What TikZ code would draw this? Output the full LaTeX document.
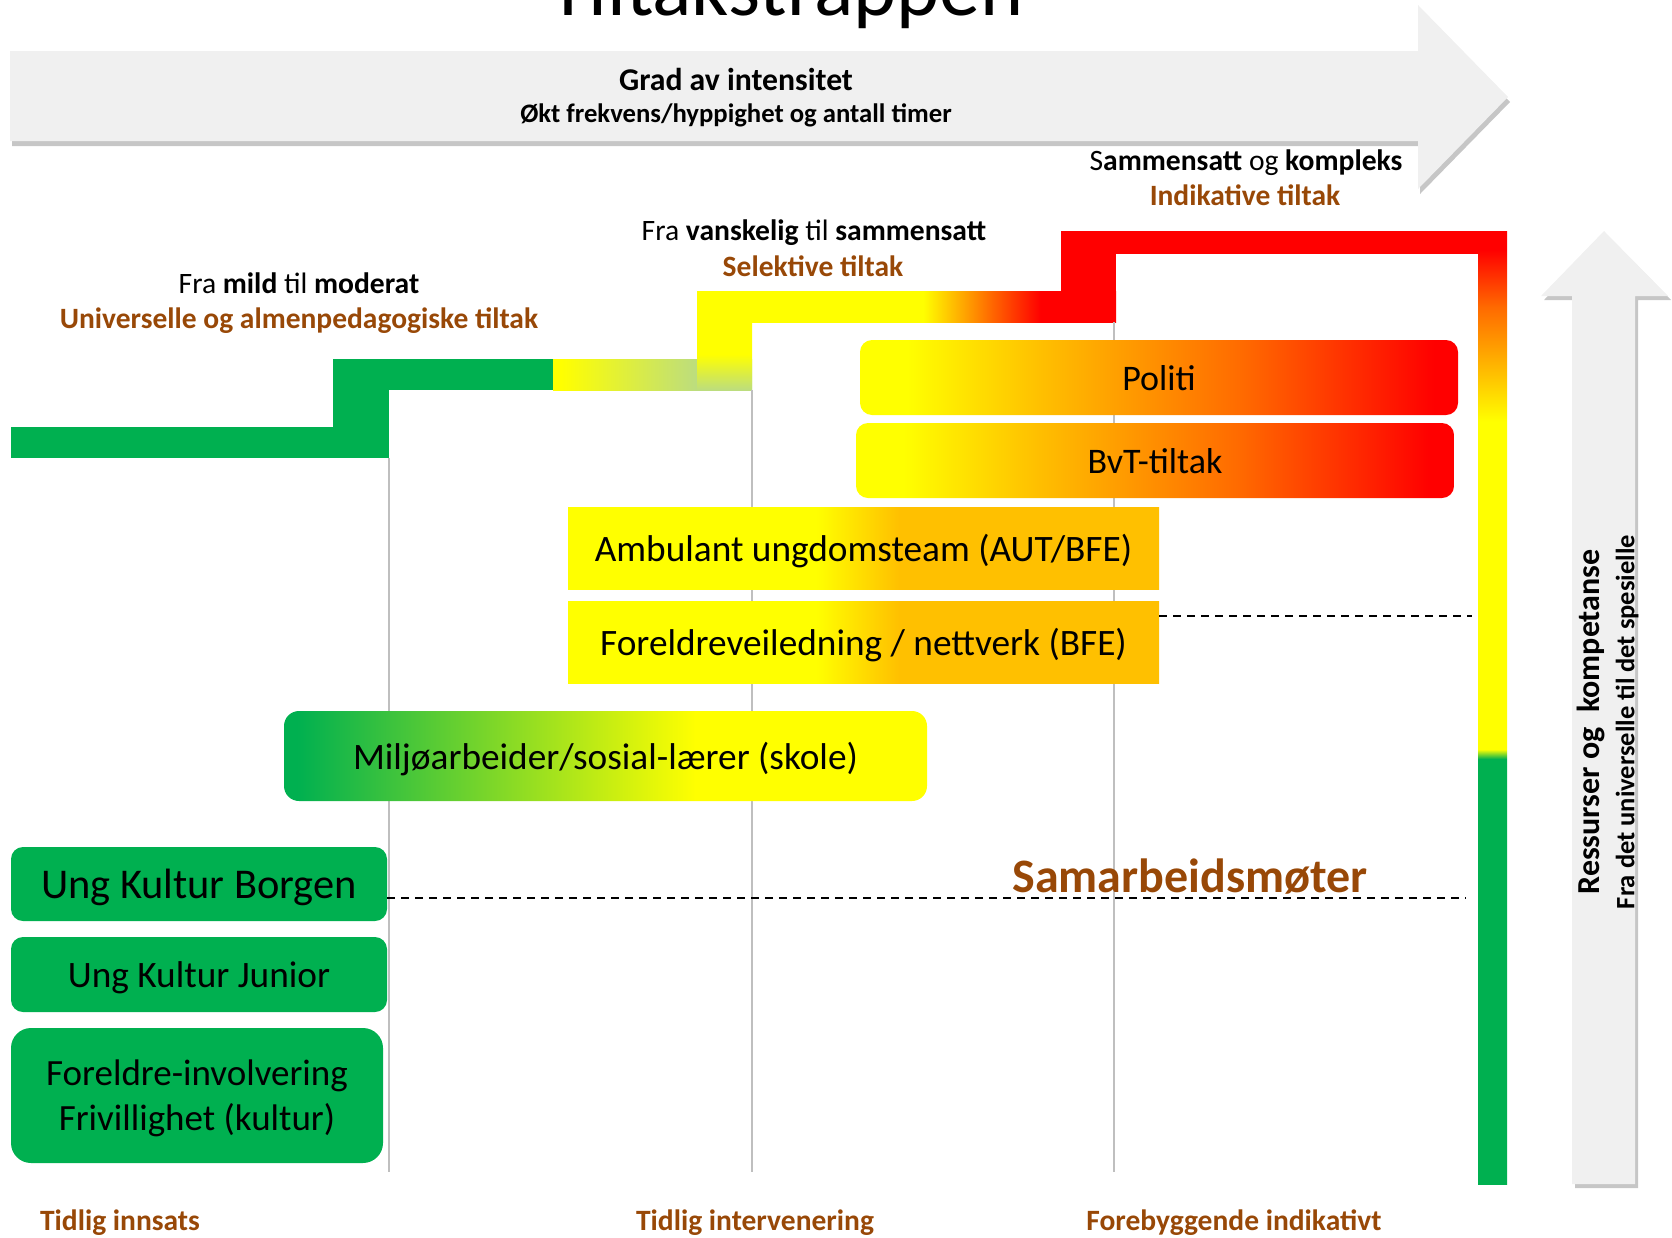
\documentclass[tikz,border=0pt]{standalone}
\usepackage{fontspec}
\setmainfont{Carlito}
\usepackage{xcolor}
\usepackage{tikz}

\definecolor{tgreen}{HTML}{00B050}
\definecolor{tamber}{HTML}{FFC000}
\definecolor{torange}{HTML}{FF6A00}
\definecolor{tbrown}{HTML}{984807}
\definecolor{tarrow}{HTML}{F0F0F0}
\definecolor{tgrid}{HTML}{BFBFBF}
\definecolor{tpale}{HTML}{BCDD7E}

\newcommand{\tsize}[1]{\fontsize{#1}{#1}\selectfont}

% shadings: 25bp..75bp is the filled path
\pgfdeclarehorizontalshading{redshade}{100bp}{color(0bp)=(yellow); color(29bp)=(yellow); color(40bp)=(tamber); color(57bp)=(torange); color(73bp)=(red); color(100bp)=(red)}
\pgfdeclarehorizontalshading{ambershade}{100bp}{color(0bp)=(yellow); color(46bp)=(yellow); color(53bp)=(tamber); color(100bp)=(tamber)}
\pgfdeclarehorizontalshading{greenshade}{100bp}{color(0bp)=(tgreen); color(26bp)=(tgreen); color(57bp)=(yellow); color(100bp)=(yellow)}
\pgfdeclarehorizontalshading{stepshade}{100bp}{color(0bp)=(yellow); color(52bp)=(yellow); color(60bp)=(torange); color(66bp)=(red); color(100bp)=(red)}
\pgfdeclarehorizontalshading{paleshade}{100bp}{color(0bp)=(yellow); color(27bp)=(yellow); color(61bp)=(tpale); color(100bp)=(tpale)}
\pgfdeclareverticalshading{risershade}{100bp}{color(0bp)=(tpale); color(25bp)=(tpale); color(43bp)=(yellow); color(100bp)=(yellow)}
\pgfdeclareverticalshading{barshade}{100bp}{color(0bp)=(tgreen); color(47.3bp)=(tgreen); color(47.8bp)=(yellow); color(65bp)=(yellow); color(67.5bp)=(tamber); color(71bp)=(torange); color(74bp)=(red); color(100bp)=(red)}

\begin{document}
\begin{tikzpicture}[x=1pt,y=-1pt,
    txt/.style={inner sep=0pt,anchor=base,font=\tsize{29.6}},
    head/.style={txt,font=\tsize{29.5}\bfseries,text=tbrown},
    gbox/.style={fill=tgreen,rounded corners=12pt,inner sep=0pt,minimum width=376pt,text depth=0pt,font=\tsize{37.3}},
    fbox/.style={inner sep=0pt,minimum width=591pt,minimum height=82pt,text depth=0pt,shading=ambershade,font=\tsize{37.3}},
    rbox/.style={inner sep=0pt,minimum width=598pt,minimum height=75pt,text depth=0pt,rounded corners=12pt,shading=redshade,font=\tsize{36}},
    gridline/.style={tgrid,line width=2pt},
    meetline/.style={dash pattern=on 8pt off 6pt,line width=2pt}]
  \useasboundingbox (0,0) rectangle (1672,1237);
  \clip (0,0) rectangle (1672,1237);

  % Intensity arrow
  \foreach \dx/\dy/\col in {2/5/gray!45, 0/0/tarrow}
    \fill[\col,shift={(\dx,\dy)}] (10,51) -- (1418,51) -- (1418,5) -- (1508,97)
      -- (1418,189) -- (1418,141) -- (10,141) -- cycle;
  \node[txt,font=\tsize{82}] (title) at (786,15) {Tiltakstrappen};
  \node[txt,font=\tsize{31.7}\bfseries] (grad) at (736,90) {Grad av intensitet};
  \node[txt,font=\tsize{26.7}\bfseries] (okt) at (736,122) {Økt frekvens/hyppighet og antall timer};

  % Resource arrow
  \foreach \dx/\dy/\col in {3/4/gray!45, 0/0/tarrow}
    \fill[\col,shift={(\dx,\dy)}] (1572,1184) -- (1572,296) -- (1541,296) -- (1604,231)
      -- (1668,296) -- (1635,296) -- (1635,1184) -- cycle;
  \node[rotate=90,inner sep=0pt,font=\tsize{32}\bfseries] (ressurs) at (1591,722) {Ressurser og\ \ kompetanse};
  \node[rotate=90,inner sep=0pt,font=\tsize{26.5}\bfseries] (spesiell) at (1627,722) {Fra det universelle til det spesielle};

  % Step labels
  \node[txt] (mild) at (299,293) {Fra \textbf{mild} til \textbf{moderat}};
  \node[head] (univ) at (299,328) {Universelle og almenpedagogiske tiltak};
  \node[txt] (vansk) at (814,240) {Fra \textbf{vanskelig} til \textbf{sammensatt}};
  \node[head] (selek) at (813,276) {Selektive tiltak};
  \node[txt] (kompl) at (1246,170) {S\textbf{ammensatt} og \textbf{kompleks}};
  \node[head] (indik) at (1245,205) {Indikative tiltak};

  % Stairs
  \fill[tgreen] (11,427) rectangle (389,458);
  \fill[tgreen] (333,359) rectangle (389,458);
  \fill[tgreen] (333,359) rectangle (553,390);
  \shade[shading=paleshade] (553,359) rectangle (752,390);
  \shade[shading=risershade] (697,291) rectangle (752,390);
  \shade[shading=stepshade] (697,291) rectangle (1116,322);
  \fill[red] (1061,231) rectangle (1116,322);
  \fill[red] (1061,231) rectangle (1490,254);
  \shade[shading=barshade] (1478,231) rectangle (1507,1184);

  % Grid
  \foreach \x/\y in {389/458, 752/390, 1114/322}
    \draw[gridline] (\x,\y) -- (\x,1172);

  % Measures
  \node[rbox] (politi) at (1159,377.5) {Politi};
  \node[rbox] (bvt) at (1155,460.5) {BvT-tiltak};
  \node[fbox] (aut) at (863.5,548) {Ambulant ungdomsteam (AUT/BFE)};
  \node[fbox] (veil) at (863.5,642) {Foreldreveiledning / nettverk (BFE)};
  \node[inner sep=0pt,minimum width=643pt,minimum height=90pt,rounded corners=15pt,text depth=0pt,
    shading=greenshade,font=\tsize{37.3}] (miljo) at (605.5,756) {Miljøarbeider/sosial-lærer (skole)};
  \node[gbox,minimum height=74pt,font=\tsize{42.4}] (borgen) at (199,884) {Ung Kultur Borgen};
  \node[gbox,minimum height=75pt] (junior) at (199,974.5) {Ung Kultur Junior};
  \node[gbox,minimum width=372pt,minimum height=135pt,rounded corners=20pt,align=center,
    font=\fontsize{37}{45}\selectfont] (frivillig) at (197,1095.5) {Foreldre-involvering\\Frivillighet (kultur)};

  % Meetings
  \coordinate (dashA) at (1472,616);
  \coordinate (dashB) at (1466,898);
  \draw[meetline] (veil.east |- dashA) -- (dashA);
  \draw[meetline] (borgen.east |- dashB) -- (dashB);
  \node[head,font=\tsize{48}\bfseries] (samarb) at (1190,892) {Samarbeidsmøter};

  % Bottom labels
  \node[head] (innsats) at (120,1230) {Tidlig innsats};
  \node[head] (interv) at (755,1230) {Tidlig intervenering};
  \node[head] (forebyg) at (1234,1230) {Forebyggende indikativt};
\end{tikzpicture}
\end{document}
